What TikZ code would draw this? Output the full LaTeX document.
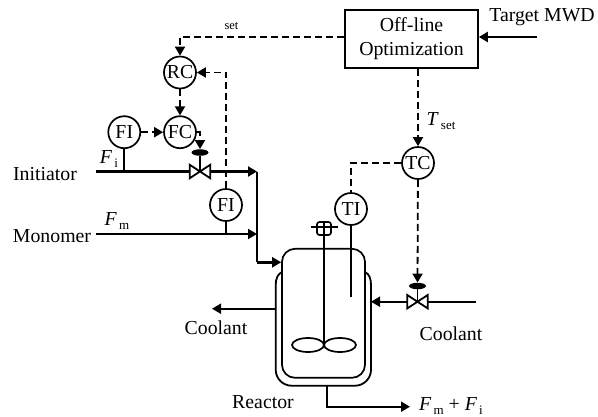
\documentclass[tikz,border=0pt]{standalone}
\usepackage{fontspec}
\setmainfont{Liberation Serif}
\usetikzlibrary{positioning, arrows.meta, shapes.geometric}
\newcommand{\subtxt}[1]{\raisebox{-0.4ex}{\fontsize{13}{13}\selectfont #1}}
\tikzset{
  ctrl/.style={draw, circle, line width=1.7pt, inner sep=0pt, minimum size=32pt},
  optbox/.style={draw, line width=1.7pt, minimum width=133pt, minimum height=58pt, align=center, inner sep=0pt},
  vessel/.style={draw, line width=1.7pt, rounded corners=13pt, minimum width=83pt, minimum height=129pt, inner sep=0pt},
  valve/.style={inner sep=0pt, minimum width=20pt, minimum height=13pt},
  actuator/.style={ellipse, fill=black, inner sep=0pt, minimum width=17pt, minimum height=6.5pt},
  blade/.style={draw, ellipse, line width=1.7pt, inner sep=0pt, minimum width=32pt, minimum height=14pt},
  label/.style={inner sep=0pt},
  pipe/.style={line width=1.8pt},
  thickpipe/.style={line width=2.8pt},
  signal/.style={line width=1.8pt, dash pattern=on 7pt off 4pt},
  >={Triangle[length=9pt, width=10pt]},
}
\begin{document}
\begin{tikzpicture}[x=1pt, y=-1pt, font=\fontsize{19.8}{24}\selectfont]
    \useasboundingbox (0,0) rectangle (598,416);
    % controllers and box
    \node[optbox] (opt) at (411.5,39) {Off-line\\Optimization};
    \node[ctrl] (rc) at (180,72.5) {RC};
    \node[ctrl, below=26pt of rc] (fc) {FC};
    \node[ctrl, left=22pt of fc] (fia) {FI};
    \node[ctrl] (fib) at (226,205) {FI};
    \node[ctrl] (ti) at (351,209) {TI};
    \node[ctrl] (tc) at (418,163) {TC};
    % valves
    \node[valve] (vi) at (200,171.5) {};
    \node[actuator] (aci) at (200,152.5) {};
    \node[valve] (vc) at (417.5,301.7) {};
    \node[actuator] (acc) at (417.5,286) {};
    % reactor
    \node[vessel] (reactor) at (323.5,313.3) {};
    \node[draw, line width=1.7pt, rounded corners=2.5pt, inner sep=0pt, minimum width=14pt, minimum height=13pt] (motor) at (324,228.5) {};
    \node[blade] (bladel) at (308,345) {};
    \node[blade] (blader) at (340,345) {};
    \coordinate (hub) at (324,345);
    \coordinate (jl) at (275.7,308.7);
    \coordinate (jr) at (371,301.7);
    \coordinate (jb) at (326.7,385.7);
    \draw[pipe] (282,272) .. controls (278,274) and (275.7,278) .. (275.7,285) -- (275.7,369.7) arc[start angle=180, end angle=270, radius=16pt] -- (355,385.7) arc[start angle=270, end angle=360, radius=16pt] -- (371,285) .. controls (371,278) and (369,274) .. (365,272);
    % labels
    \node[label] (target) at (542,17) {Target MWD};
    \node[label, font=\fontsize{12.5}{13}\selectfont] (setlab) at (231.5,26) {set};
    \node[label] (tset) at (441,121) {\textit{T}\subtxt{\,set}};
    \node[label] (init) at (45,174) {Initiator};
    \node[label] (mono) at (52,236) {Monomer};
    \node[label] (fi) at (109,159) {\textit{F}\subtxt{\,i}};
    \node[label] (fm) at (117,221) {\textit{F}\subtxt{\,m}};
    \node[label] (coolout) at (216,328) {Coolant};
    \node[label] (coolin) at (451,334) {Coolant};
    \node[label] (rlab) at (263,402) {Reactor};
    \node[label, anchor=west] (prod) at (419,406) {\textit{F}\subtxt{\,m} + \textit{F}\subtxt{\,i}};
    % free ends
    \coordinate (tin) at (537,37);
    \coordinate (iin) at (96,171.5);
    \coordinate (min) at (96,234);
    \coordinate (ij) at (257,171.5);
    \coordinate (mj) at (257,234);
    \coordinate (fj) at (257,262.3);
    \coordinate (cin) at (476,301.7);
    \coordinate (cout) at (212,308.7);
    \coordinate (pout) at (410,406.7);
    \coordinate (tiend) at (351,296.7);
    % signals
    \draw[signal, ->] ([yshift=2pt]opt.west) -| (rc.north);
    \draw[signal, ->] (fib.north) |- (rc.east);
    \draw[signal, ->] (rc) -- (fc);
    \draw[signal, ->] (fia) -- (fc);
    \draw[signal, ->] (fc.east) -| (aci.north);
    \draw[signal, ->] (opt.south -| tc) -- (tc);
    \draw[signal] (tc.west) -| (ti.north);
    \draw[signal, ->] (tc) -- (acc);
    % pipes
    \draw[thickpipe, ->] (tin) -- (tin -| opt.east);
    \draw[thickpipe] (iin) -- (vi.west);
    \draw[thickpipe, ->] (vi.east) -- (ij);
    \draw[pipe] (fia) -- (fia |- iin);
    \draw[pipe] (aci) -- (vi.center);
    \draw[pipe, ->] (min) -- (mj);
    \draw[pipe] (fib) -- (fib |- min);
    \draw[pipe] (ij) -- (fj);
    \draw[thickpipe, ->] (fj) -- (fj -| reactor.west);
    \draw[pipe] (cin) -- (vc.east);
    \draw[pipe, ->] (vc.west) -- (jr);
    \draw[pipe] (acc) -- (vc.center);
    \draw[pipe, ->] (jl) -- (cout);
    \draw[pipe, ->] (jb) |- (pout);
    \draw[pipe] (ti) -- (tiend);
    % agitator
    \draw[pipe] (motor.north) -- (hub);
    \draw[pipe] ([xshift=-5pt, yshift=1.5pt]motor.west) -- ([xshift=6pt, yshift=1.5pt]motor.east);
    % valve bodies
    \foreach \v in {vi, vc} {
      \draw[pipe, line join=miter] (\v.north west) -- (\v.south east) -- (\v.north east) -- (\v.south west) -- cycle;
    }
\end{tikzpicture}
\end{document}
